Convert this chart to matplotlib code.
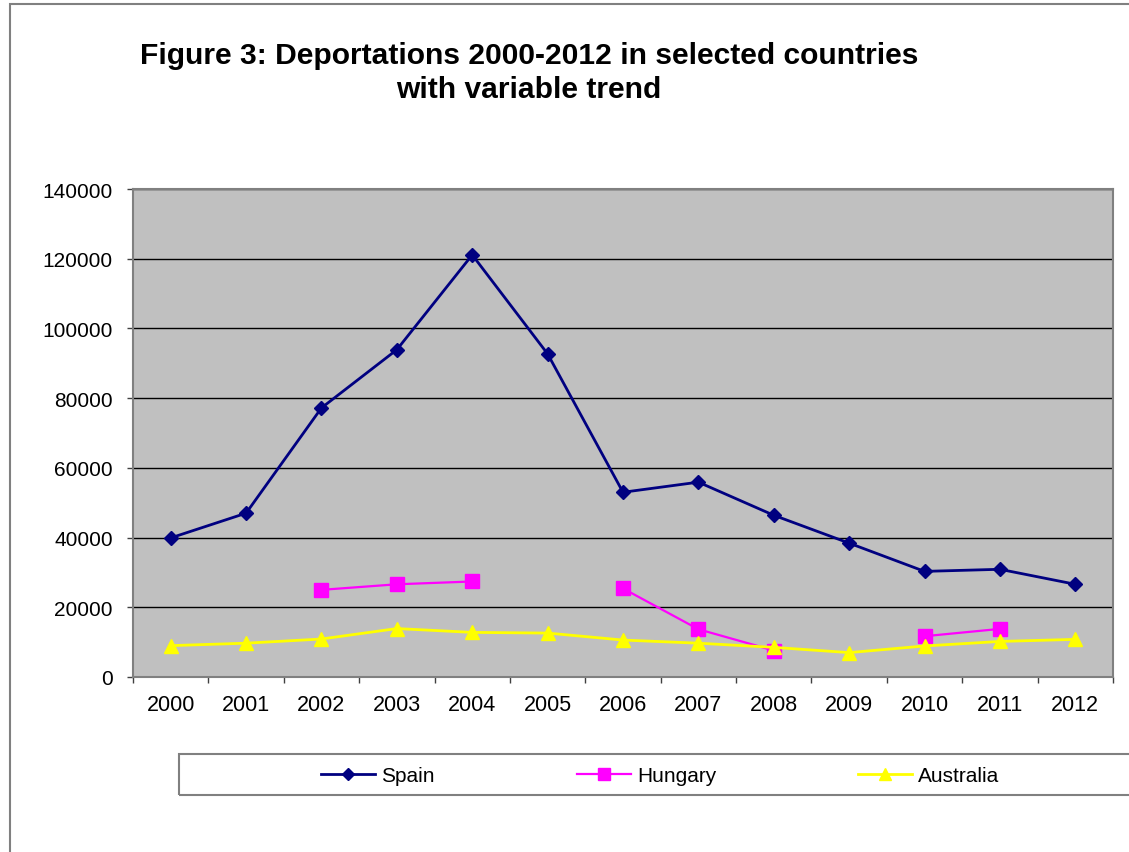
import numpy as np
import matplotlib.pyplot as plt
from matplotlib.patches import Rectangle
from matplotlib.ticker import MultipleLocator, FixedLocator

plt.rcParams["font.family"] = ["Liberation Sans", "DejaVu Sans"]

# Data
years = ["2000", "2001", "2002", "2003", "2004", "2005", "2006",
         "2007", "2008", "2009", "2010", "2011", "2012"]
spain = [39900, 47000, 77200, 93900, 121100, 92700, 53000,
         55900, 46400, 38400, 30300, 30900, 26600]
hungary = [np.nan, np.nan, 25000, 26600, 27400, np.nan, 25400,
           13700, 7600, np.nan, 11700, 13800, np.nan]
australia = [9000, 9700, 10900, 13900, 12800, 12600, 10600,
             9700, 8500, 7000, 8900, 10200, 10800]

series = [("Spain", spain, "#000080", "D", 7.5, 2.0),
          ("Hungary", hungary, "#FF00FF", "s", 10.5, 1.6),
          ("Australia", australia, "#FFFF00", "^", 10.5, 2.0)]

title = "Figure 3: Deportations 2000-2012 in selected countries\nwith variable trend"


def main():
    fig = plt.figure(figsize=(11.29, 8.53), dpi=100)
    ax = fig.add_axes([133 / 1129, 175 / 853, 980 / 1129, 488 / 853])
    ax.set_facecolor("#C0C0C0")

    x = np.arange(len(years))
    for name, vals, color, marker, ms, lw in series:
        ax.plot(x, vals, color=color, marker=marker, markersize=ms,
                linewidth=lw, label=name, clip_on=False)

    # Axes and grid
    ax.set_xlim(-0.5, len(years) - 0.5)
    ax.set_ylim(0, 140000)
    ax.yaxis.set_major_locator(MultipleLocator(20000))
    ax.grid(axis="y", color="black", linewidth=1)
    ax.set_axisbelow(True)
    ax.set_xticks(x)
    ax.set_xticklabels(years)
    ax.xaxis.set_minor_locator(FixedLocator(np.arange(-0.5, len(years), 1)))
    ax.tick_params(axis="x", which="major", length=0, pad=12.5, labelsize=15.5)
    ax.tick_params(axis="x", which="minor", length=4.5, width=1, color="#404040")
    ax.tick_params(axis="y", length=4.5, width=1, color="#404040", pad=10, labelsize=15)
    for s in ax.spines.values():
        s.set_color("#808080")
        s.set_linewidth(1.5)

    # Title
    fig.text(529 / 1129, 1 - 73 / 853, title, ha="center", va="center",
             fontsize=21.6, fontweight="bold", linespacing=1.3)

    # Outer chart border and legend box
    fig.patches.append(Rectangle((10 / 1129, -0.1), 1.2, 1.1 - 5 / 853,
                                 transform=fig.transFigure, fill=False,
                                 edgecolor="#808080", linewidth=1.5))
    fig.patches.append(Rectangle((179 / 1129, 57 / 853), 1.0, 41 / 853,
                                 transform=fig.transFigure, fill=False,
                                 edgecolor="#808080", linewidth=1.5))
    fig.legend(loc="center left", bbox_to_anchor=(321 / 1129, 76 / 853),
               ncol=3, frameon=False, fontsize=15, handlelength=2.6,
               handletextpad=0.3, columnspacing=6.8, borderpad=0,
               borderaxespad=0, markerscale=0.8)

    fig.savefig("out.png", dpi=100)


if __name__ == "__main__":
    main()
